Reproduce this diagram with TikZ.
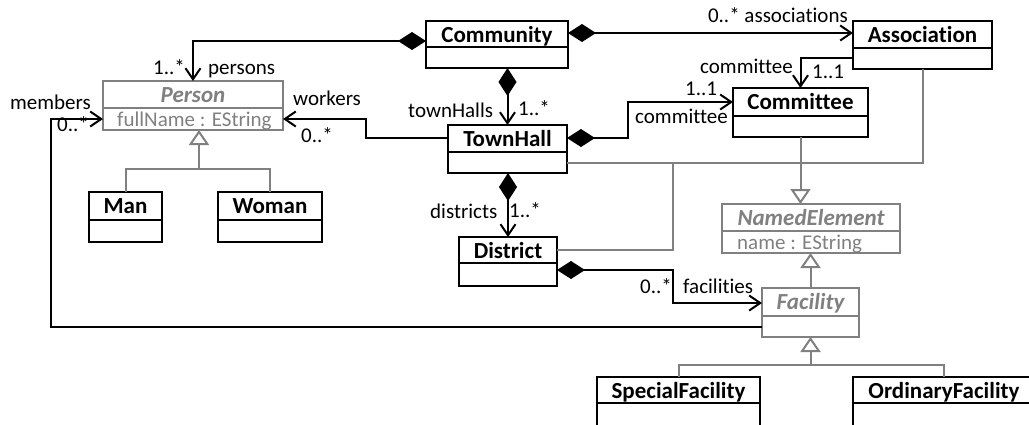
\documentclass[tikz,border=0pt]{standalone}
\usepackage{fontspec}
\setmainfont{Carlito}[Ligatures=NoCommon]
\usetikzlibrary{arrows.meta}
\definecolor{umlgray}{RGB}{128,128,128}
\newcommand\umlclass[8][clsblack]{%
  \node[classbox,#1,minimum width={#5-#3},minimum height={#7-#4},anchor=north west] (#2) at (#3,#4) {};
  \draw[line width=2pt,#1] (#2.west |- 0,#6) -- (#2.east |- 0,#6);
  \node[titletext,#1 title] (#2-title) at ({(#3+#5)/2},{#4+21}) {#8};
}
\begin{document}
\begin{tikzpicture}[x=1pt,y=-1pt,line join=miter,
  classbox/.style={line width=2pt,inner sep=0pt,outer sep=0pt},
  clsblack/.style={draw=black},
  clsgray/.style={draw=umlgray},
  clsblack title/.style={text=black,font=\fontsize{23}{26}\selectfont\bfseries},
  clsgray title/.style={text=umlgray,font=\fontsize{23}{26}\selectfont\bfseries\itshape},
  titletext/.style={anchor=base,inner sep=0pt},
  attr/.style={anchor=base west,inner sep=0pt,text=umlgray,font=\fontsize{21}{24}\selectfont},
  lbl/.style={inner sep=0pt,font=\fontsize{21}{24}\selectfont},
  conn/.style={line width=2pt,draw=black},
  comp/.style={conn,{Diamond[length=28pt,width=18pt]}-{Straight Barb[length=11pt,width=15pt]}},
  nav/.style={conn,-{Straight Barb[length=11pt,width=15pt]}},
  gline/.style={line width=2pt,draw=umlgray},
  gen/.style={gline,-{Triangle[length=15pt,width=20pt,fill=white]}},
]
\path[use as bounding box,fill=white] (0,0) rectangle (1029,424);

% classes
\umlclass{community}{426}{21}{568}{47}{68}{Community}
\umlclass{association}{853}{21}{992}{48}{69}{Association}
\umlclass{committee}{733}{88}{868}{116}{137}{Committee}
\umlclass{townhall}{448}{125}{567}{152}{173}{TownHall}
\umlclass[clsgray]{person}{103}{81}{283}{108}{130}{Person}
\umlclass{man}{89}{192}{162}{220}{242}{Man}
\umlclass{woman}{218}{192}{322}{220}{242}{Woman}
\umlclass{district}{459}{237}{557}{263}{286}{District}
\umlclass[clsgray]{namedelement}{722}{204}{900}{231}{253}{NamedElement}
\umlclass[clsgray]{facility}{762}{288}{859}{316}{337}{Facility}
\umlclass{specialfacility}{597}{377}{760}{403}{432}{SpecialFacility}
\umlclass{ordinaryfacility}{853}{377}{1035}{403}{432}{OrdinaryFacility}

\node[attr] (person-attr) at (117,126.5) {fullName : EString};
\node[attr] (namedelement-attr) at (737,249.5) {name : EString};

% generalizations
\draw[gline] (man.north) |- (woman.north |- 0,169) -- (woman.north);
\draw[gen] (199,169) -- (person.south -| 199,0);
\draw[gline] (townhall.east |- 0,163) -| (association.south);
\draw[gline] (district.east |- 0,250) -| (673,163);
\draw[gen] (committee.south) -- (committee.south |- namedelement.north);
\draw[gen] (facility.north) -- (namedelement.south -| facility.north);
\draw[gline] (specialfacility.north) |- (ordinaryfacility.north |- 0,365) -- (ordinaryfacility.north);
\draw[gen] (facility.south |- 0,365) -- (facility.south);

% associations
\draw[comp] (community.west |- 0,41) -| (person.north);
\draw[comp] (townhall.north |- community.south) -- (townhall.north);
\draw[comp] (community.east |- 0,33) -- (association.west |- 0,33);
\draw[nav] (association.west |- 0,58) -| (committee.north);
\draw[comp] (townhall.east |- 0,138) -- (628,138) |- (committee.west |- 0,102);
\draw[nav] (townhall.west |- 0,138) -- (366,138) |- (person.east |- 0,119);
\draw[comp] (district.north |- townhall.south) -- (district.north);
\draw[comp] (district.east |- 0,270) -- (673,270) |- (facility.west |- 0,303);
\draw[nav] (facility.west |- 0,327) -- (51,327) |- (person.west |- 0,119);

% labels
\node[lbl,anchor=base west] (l-pm) at (153,74) {1..*};
\node[lbl,anchor=base west] (l-persons) at (208,74) {persons};
\node[lbl,anchor=base west] (l-members) at (10,109) {members};
\node[lbl,anchor=base west] (l-mm) at (57,131) {0..*};
\node[lbl,anchor=base west] (l-workers) at (293,105) {workers};
\node[lbl,anchor=base west] (l-wm) at (301,142) {0..*};
\node[lbl,anchor=base west] (l-townhalls) at (408,117) {townHalls};
\node[lbl,anchor=base west] (l-tm) at (518,115) {1..*};
\node[lbl,anchor=base east] (l-assoc) at (848,22) {0..* associations};
\node[lbl,anchor=base east] (l-comm1) at (793,73) {committee};
\node[lbl,anchor=base west] (l-cm1) at (812,78) {1..1};
\node[lbl,anchor=base west] (l-cm2) at (685,95) {1..1};
\node[lbl,anchor=base west] (l-comm2) at (635,123) {committee};
\node[lbl,anchor=base west] (l-districts) at (430,218) {districts};
\node[lbl,anchor=base west] (l-dm) at (509,217) {1..*};
\node[lbl,anchor=base west] (l-fm) at (640,293) {0..*};
\node[lbl,anchor=base west] (l-facilities) at (683,293) {facilities};
\end{tikzpicture}
\end{document}
